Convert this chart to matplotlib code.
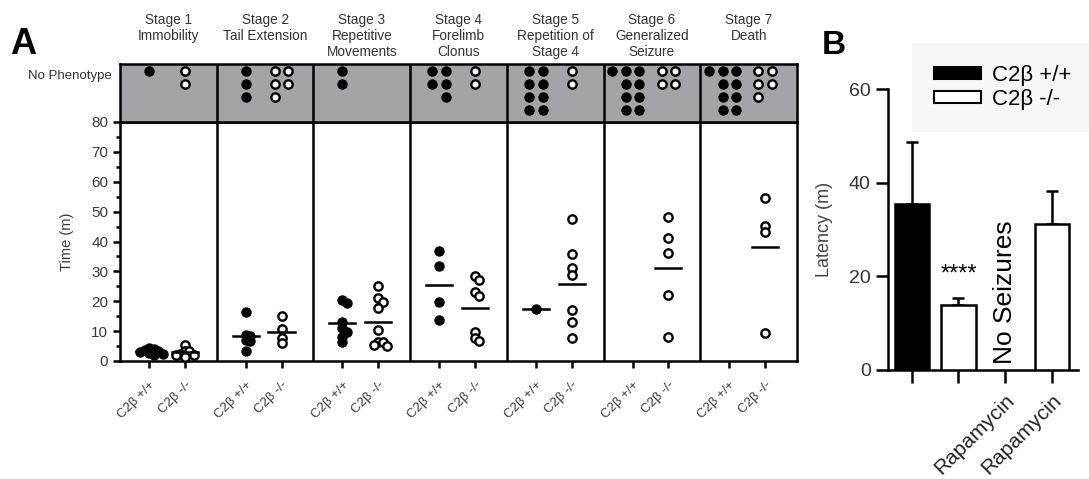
import numpy as np
import matplotlib.pyplot as plt
from matplotlib.patches import Patch

plt.rcParams['font.family'] = ['Liberation Sans', 'DejaVu Sans']

# ---- panel A data: seizure stage latency per animal (minutes) ----
stages = ["Stage 1\nImmobility", "Stage 2\nTail Extension", "Stage 3\nRepetitive\nMovements",
          "Stage 4\nForelimb\nClonus", "Stage 5\nRepetition of\nStage 4",
          "Stage 6\nGeneralized\nSeizure", "Stage 7\nDeath"]
genotypes = ["C2β +/+", "C2β -/-"]

wt_times = [
    [4.5, 4.0, 3.8, 3.5, 3.0, 2.8, 2.5, 2.0],
    [16.3, 8.7, 8.5, 7.0, 6.8, 3.3],
    [20.4, 19.3, 13.1, 10.9, 9.8, 8.1, 6.5],
    [36.9, 31.9, 19.6, 13.7],
    [17.4],
    [],
    [],
]
ko_times = [
    [5.5, 3.5, 3.5, 2.5, 2.0, 2.0, 1.5],
    [15.0, 10.6, 7.6, 5.9],
    [25.2, 21.0, 19.8, 17.6, 10.4, 6.5, 6.5, 5.4, 5.0],
    [28.6, 27.1, 23.2, 21.9, 9.8, 7.6, 6.8],
    [47.4, 35.8, 31.2, 28.8, 17.1, 13.2, 7.6],
    [48.3, 41.1, 36.3, 22.1, 7.9],
    [54.4, 45.2, 43.3, 9.5],
]
# animals that never reached the stage
wt_no_phenotype = [1, 3, 2, 5, 8, 9, 9]
ko_no_phenotype = [2, 5, 0, 2, 2, 4, 5]

# ---- panel B data: latency to seizure ----
treatments = ["", "", "Rapamycin", "Rapamycin"]
latency_mean = [35.5, 13.9, np.nan, 31.2]
latency_err = [13.1, 1.4, np.nan, 7.1]

W, H = 1089, 479
fig = plt.figure(figsize=(W / 100, H / 100), dpi=100)


def box(l, t, r, b):
    return [l / W, 1 - b / H, (r - l) / W, (b - t) / H]


ax = fig.add_axes(box(120, 122, 797, 361))
axb = fig.add_axes(box(120, 64, 797, 122))
ax2 = fig.add_axes(box(888, 89, 1078, 370))

n = len(stages)
lw = 1.8
tick_col = '#3a3a3a'
wt_x = np.arange(n) + 0.3
ko_x = np.arange(n) + 0.67

# pixels per data unit, used to spread overlapping points
px_x = 677 / n
px_y = 239 / 80
dot = 9.0


def swarm(values):
    placed, offs = [], []
    cands = [0] + [s * k for k in range(1, 8) for s in (1, -1)]
    vals = sorted(values, reverse=True)
    for v in vals:
        for c in cands:
            xo = c * 0.5 * dot
            if all(np.hypot(xo - px, (v - pv) * px_y) >= 0.5 * dot for px, pv in placed):
                break
        placed.append((xo, v))
        offs.append(xo / px_x)
    return np.array(offs), np.array(vals)


for i in range(n):
    for times, x0, filled in ((wt_times[i], wt_x[i], True), (ko_times[i], ko_x[i], False)):
        if not times:
            continue
        offs, vals = swarm(times)
        if filled:
            ax.plot(x0 + offs, vals, 'o', ms=6.5, color='black', clip_on=False, zorder=3)
        else:
            ax.plot(x0 + offs, vals, 'o', ms=6, mfc='white', mec='black', mew=1.7,
                    clip_on=False, zorder=3)
        m = np.mean(times)
        ax.plot([x0 - 0.135, x0 + 0.135], [m, m], color='black', lw=1.8, zorder=4)

ax.set_xlim(0, n)
ax.set_ylim(0, 80)
ax.set_yticks(np.arange(0, 81, 10))
ax.set_yticks(np.arange(5, 80, 10), minor=True)
ax.set_xticks(np.concatenate([wt_x, ko_x]))
ax.set_xticklabels([genotypes[0]] * n + [genotypes[1]] * n, rotation=45, ha='right',
                   rotation_mode='anchor', fontsize=9.5, color=tick_col)
ax.tick_params(axis='y', labelsize=11, labelcolor=tick_col, width=lw, length=5)
ax.tick_params(axis='y', which='minor', width=lw, length=3)
ax.tick_params(axis='x', width=lw, length=5, pad=8)
for s in ax.spines.values():
    s.set_linewidth(lw)
for b in range(1, n):
    ax.axvline(b, color='black', lw=lw)
ax.set_ylabel("Time (m)", fontsize=10.5, color=tick_col)
ax.yaxis.set_label_coords(-0.068, 0.5)

# "No Phenotype" band
axb.set_facecolor('#a4a4a8')
axb.set_xlim(0, n)
axb.set_ylim(0, 1)
axb.set_xticks([])
axb.set_yticks([])
for s in axb.spines.values():
    s.set_linewidth(lw)
for b in range(1, n):
    axb.axvline(b, color='black', lw=lw)

row_y = lambda r: 1 - 0.12 - 0.224 * r
col_dx = dot * 1.5 / px_x


def band_dots(count, x0, right_align):
    per_row = 1 if count <= 3 else 2
    rows = min(int(np.ceil(count / per_row)), 4)
    xs, ys = [], []
    left = count
    for r in range(rows):
        k = min(per_row, left)
        if r == rows - 1 and k < per_row:
            cols = [per_row - 1] if right_align else [0]
        else:
            cols = list(range(k))
        for c in cols:
            xs.append(x0 + (c - (per_row - 1) / 2) * col_dx)
            ys.append(row_y(r))
        left -= len(cols)
    # leftover animals go to the front of the first row
    for j in range(left):
        xs.append(x0 + (-(per_row - 1) / 2 - 1 - j) * col_dx)
        ys.append(row_y(0))
    return xs, ys


for i in range(n):
    xs, ys = band_dots(wt_no_phenotype[i], wt_x[i], True)
    axb.plot(xs, ys, 'o', ms=6.5, color='black')
    xs, ys = band_dots(ko_no_phenotype[i], ko_x[i], False)
    axb.plot(xs, ys, 'o', ms=6, mfc='white', mec='black', mew=1.7)
    axb.text(i + 0.5, 1 + (64 - 13) / 58, stages[i], ha='center', va='top', fontsize=9.8,
             color='#333333', linespacing=1.2)

axb.text(-0.012, 0.8, "No Phenotype", transform=axb.transAxes, ha='right', va='center',
         fontsize=9.5, color='#333333')

# ---- panel B ----
pos = np.arange(len(treatments))
faces = ['black', 'white', 'white', 'white']
ax2.bar(pos, latency_mean, width=0.73, color=faces, edgecolor='black', linewidth=lw,
        zorder=3)
ax2.errorbar(pos, latency_mean, yerr=[np.zeros(len(pos)), latency_err], fmt='none',
             ecolor='black', elinewidth=lw, capsize=4.5, capthick=lw, zorder=2)
ax2.set_xlim(-0.51, 3.56)
ax2.set_ylim(0, 60)
ax2.set_yticks([0, 20, 40, 60])
ax2.set_xticks(pos)
ax2.set_xticklabels(treatments, rotation=45, ha='right', rotation_mode='anchor',
                    fontsize=15, color='#222222')
ax2.tick_params(axis='both', width=lw, length=9, color='black')
ax2.tick_params(axis='y', labelsize=14, labelcolor='#333333')
ax2.tick_params(axis='x', pad=6)
for s in ('top', 'right'):
    ax2.spines[s].set_visible(False)
for s in ('left', 'bottom'):
    ax2.spines[s].set_linewidth(lw)
ax2.set_ylabel("Latency (m)", fontsize=13, color='#444444')
ax2.yaxis.set_label_coords(-0.29, 0.5)
ax2.text(2, 1.2, "No Seizures", rotation=90, ha='center', va='bottom', fontsize=19)
ax2.text(1, latency_mean[1] + 6.5, "****", ha='center', va='center', fontsize=17)

handles = [Patch(facecolor='black', edgecolor='black', lw=1.5),
           Patch(facecolor='white', edgecolor='black', lw=1.5)]
leg = fig.legend(handles, genotypes, loc='upper left', bbox_to_anchor=(912 / W, 1 - 43 / H),
                 fontsize=16, frameon=True, fancybox=False, handlelength=2.1,
                 handleheight=0.45, handletextpad=0.5, labelspacing=0.12, borderpad=1.0,
                 borderaxespad=0)
leg.get_frame().set_facecolor('#f5f5f5')
leg.get_frame().set_edgecolor('none')

fig.text(10 / W, 1 - 27 / H, "A", fontsize=26, fontweight='bold', va='top')
fig.text(822 / W, 1 - 30 / H, "B", fontsize=24, fontweight='bold', va='top')

fig.savefig('out.png', dpi=100)
